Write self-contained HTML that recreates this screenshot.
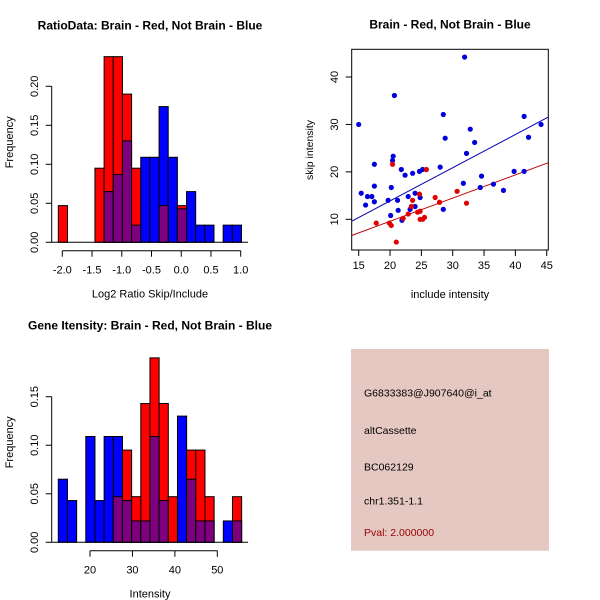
<!DOCTYPE html>
<html><head><meta charset="utf-8"><style>
body{margin:0;background:#fff}
svg{display:block;font-family:"Liberation Sans",sans-serif}
</style></head><body>
<svg id="s" width="600" height="600" viewBox="0 0 600 600"></svg>
<script>
// ---- Data ----
const ratioRed = [0.047,0,0,0,0.095,0.238,0.238,0.19,0.095,0,0,0.047,0,0.047,0,0,0,0,0,0];
const ratioBlue = [0,0,0,0,0,0.065,0.087,0.13,0.022,0.109,0.109,0.174,0.109,0.043,0.065,0.022,0.022,0,0.022,0.022];
const ratioBinStart = -2.067, ratioBinWidth = 0.154;
const ratioXTicks = [-2.0,-1.5,-1.0,-0.5,0.0,0.5,1.0];
const ratioYTicks = [0,0.05,0.10,0.15,0.20];

const intRed = [0,0,0,0,0,0,0.047,0.095,0.047,0.143,0.19,0.143,0.047,0,0.095,0.095,0.047,0,0,0.047];
const intBlue = [0.065,0.043,0,0.109,0.043,0.109,0.109,0.043,0.022,0.022,0.109,0.043,0,0.13,0.065,0.022,0.022,0,0.022,0.022];
const intBinStart = 12.53, intBinWidth = 2.16;
const intXTicks = [20,30,40,50];
const intYTicks = [0,0.05,0.10,0.15];

const blueX = [15,15.4,16.1,16.4,17.1,17.5,17.5,17.5,19.7,20.1,20.2,20.4,20.5,20.7,21.2,21.3,21.9,21.8,22.4,22.9,23.2,23.6,24,24,24.7,24.8,25.2,28,28.5,28.5,28.8,31.7,31.9,32.2,32.8,33.5,34.6,34.4,36.5,38.1,39.8,41.4,41.4,42.1,44.1];
const blueY = [30,15.5,13,14.8,14.8,13.7,17,21.6,14,10.8,16.7,22.4,23.3,36.1,14,11.9,9.8,20.5,19.3,14.8,12.1,19.7,15.5,12.7,20.1,14.6,20.5,21,32.1,12.1,27.1,17.6,44.2,23.9,29,26.2,19.1,16.7,17.4,16.1,20.1,31.7,20.1,27.3,30];
const redX = [17.8,19.9,20.2,20.4,21,22.1,22.9,23.4,23.6,24.4,24.7,24.8,24.8,25.2,25.5,25.8,27.2,27.9,30.7,32.2];
const redY = [9.2,9.2,8.7,21.6,5.2,10.2,11.1,12.7,14,11.5,15.3,11.7,10,10,10.4,20.5,14.6,13.6,15.9,13.4];
const blueFit = [0.70,-0.13];
const redFit = [0.489,-0.2];
const scXTicks = [15,20,25,30,35,40,45];
const scYTicks = [10,20,30,40];

const infoLines = ["G6833383@J907640@i_at","altCassette","BC062129","chr1.351-1.1"];
const pvalText = "Pval: 2.000000";

// ---- Drawing ----
const S = document.getElementById('s');
const NS = 'http://www.w3.org/2000/svg';
function mk(tag, attrs, parent){const e=document.createElementNS(NS,tag);for(const k in attrs)e.setAttribute(k,attrs[k]);(parent||S).appendChild(e);return e;}
function txt(x,y,s,attrs){const e=mk('text',Object.assign({x:x,y:y,'font-size':11,'text-anchor':'middle',fill:'#000'},attrs||{}));e.textContent=s;return e;}

function hist(red, blue, start, width, sx, sy, xticks, yticks, yFmt, xFmt, title, xlab, axisY, pre){
  const n=red.length;
  for(let i=0;i<n;i++){
    const x0=sx(start+i*width), x1=sx(start+(i+1)*width);
    const r=red[i], b=blue[i], mn=Math.min(r,b), mx=Math.max(r,b);
    if(mx<=0) continue;
    const top=mk('rect',{x:x0,y:sy(mx),width:x1-x0,height:sy(0)-sy(mx),fill:r>=b?'#ff0000':'#0000ff',stroke:'#000','stroke-width':1});
    
    
    if(mn>0){
      const o=mk('rect',{x:x0,y:sy(mn),width:x1-x0,height:sy(0)-sy(mn),fill:'#7f007f',stroke:'#000','stroke-width':1});
      
      
    }
  }
  const base=mk('line',{x1:51.7,x2:248,y1:sy(0),y2:sy(0),stroke:'#000'});
  
  
  const ya=mk('g',{});
  
  
  mk('line',{x1:51.7,x2:51.7,y1:sy(yticks[0]),y2:sy(yticks[yticks.length-1]),stroke:'#000'},ya);
  yticks.forEach(v=>{mk('line',{x1:45.7,x2:51.7,y1:sy(v),y2:sy(v),stroke:'#000'},ya);
    const t=txt(0,0,yFmt(v),{transform:`translate(38,${sy(v)}) rotate(-90)`});ya.appendChild(t);});
  const xa=mk('g',{});
  
  
  mk('line',{x1:sx(xticks[0]),x2:sx(xticks[xticks.length-1]),y1:axisY,y2:axisY,stroke:'#000'},xa);
  xticks.forEach(v=>{mk('line',{x1:sx(v),x2:sx(v),y1:axisY,y2:axisY+6,stroke:'#000'},xa);
    xa.appendChild(txt(sx(v),axisY+23,xFmt(v)));});
  const tl=txt(150,sy(0)-213,title,{'font-weight':'bold','font-size':12});
  
  
  const xl=txt(150,axisY+47,xlab);
  
  
  const yl=txt(0,0,'Frequency',{transform:`translate(13,${sy(0)-100}) rotate(-90)`});
  
  
}

// Plot 1
{
  const sx=v=>62.3+(v+2)*59.47, sy=v=>242.3-v*780;
  hist(ratioRed,ratioBlue,ratioBinStart,ratioBinWidth,sx,sy,ratioXTicks,ratioYTicks,v=>v.toFixed(2),v=>v.toFixed(1),
    'RatioData: Brain - Red, Not Brain - Blue','Log2 Ratio Skip/Include',250.7,'ratio');
}
// Plot 3
{
  const sx=v=>90+(v-20)*4.244, sy=v=>542.3-v*970.7;
  hist(intRed,intBlue,intBinStart,intBinWidth,sx,sy,intXTicks,intYTicks,v=>v.toFixed(2),v=>String(v),
    'Gene Itensity: Brain - Red, Not Brain - Blue','Intensity',550.7,'intensity');
}
// Plot 2 scatter
{
  const sx=v=>358.7+(v-15)*6.267, sy=v=>219.3-(v-10)*4.743;
  const box=mk('rect',{x:351.7,y:49.3,width:196.6,height:200.7,fill:'none',stroke:'#000'});
  
  
  const clip=mk('clipPath',{id:'cp'});mk('rect',{x:351.7,y:49.3,width:196.6,height:200.7},clip);
  const xa=mk('g',{});
  
  
  scXTicks.forEach(v=>{mk('line',{x1:sx(v),x2:sx(v),y1:250,y2:256,stroke:'#000'},xa);xa.appendChild(txt(sx(v),269,String(v)));});
  const ya=mk('g',{});
  
  
  scYTicks.forEach(v=>{mk('line',{x1:345.7,x2:351.7,y1:sy(v),y2:sy(v),stroke:'#000'},ya);ya.appendChild(txt(0,0,String(v),{transform:`translate(338,${sy(v)}) rotate(-90)`}));});
  const g=mk('g',{'clip-path':'url(#cp)'});
  function fit(f,col,name){const x0=13.5,x1=46;const l=mk('line',{x1:sx(x0),y1:sy(f[0]*x0+f[1]),x2:sx(x1),y2:sy(f[0]*x1+f[1]),stroke:col,'stroke-width':1},g);
    
    }
  fit(blueFit,'#0000b0','blue-fit-line');
  fit(redFit,'#c00000','red-fit-line');
  blueX.forEach((x,i)=>{const c=mk('circle',{cx:sx(x),cy:sy(blueY[i]),r:2.6,fill:'#0000dd'},g);
    
    });
  redX.forEach((x,i)=>{const c=mk('circle',{cx:sx(x),cy:sy(redY[i]),r:2.6,fill:'#e00000'},g);
    
    });
  const t=txt(450,28.5,'Brain - Red, Not Brain - Blue',{'font-weight':'bold','font-size':12});
  
  
  const xl=txt(450,298,'include intensity');
  
  
  const yl=txt(0,0,'skip intensity',{transform:`translate(313,150) rotate(-90)`,'font-size':10.5});
  
  
}
// Info panel
{
  const r=mk('rect',{x:351,y:349,width:198,height:201.7,fill:'#e5c8c2'});
  
  
  const ys=[396.5,434,470.5,504.5];
  infoLines.forEach((s,i)=>{const t=txt(364,ys[i],s,{'text-anchor':'start','font-size':10.5});
    
    });
  const p=txt(364,536,pvalText,{'text-anchor':'start','font-size':10.5,fill:'#990000'});
  
  
}
</script>
</body></html>
